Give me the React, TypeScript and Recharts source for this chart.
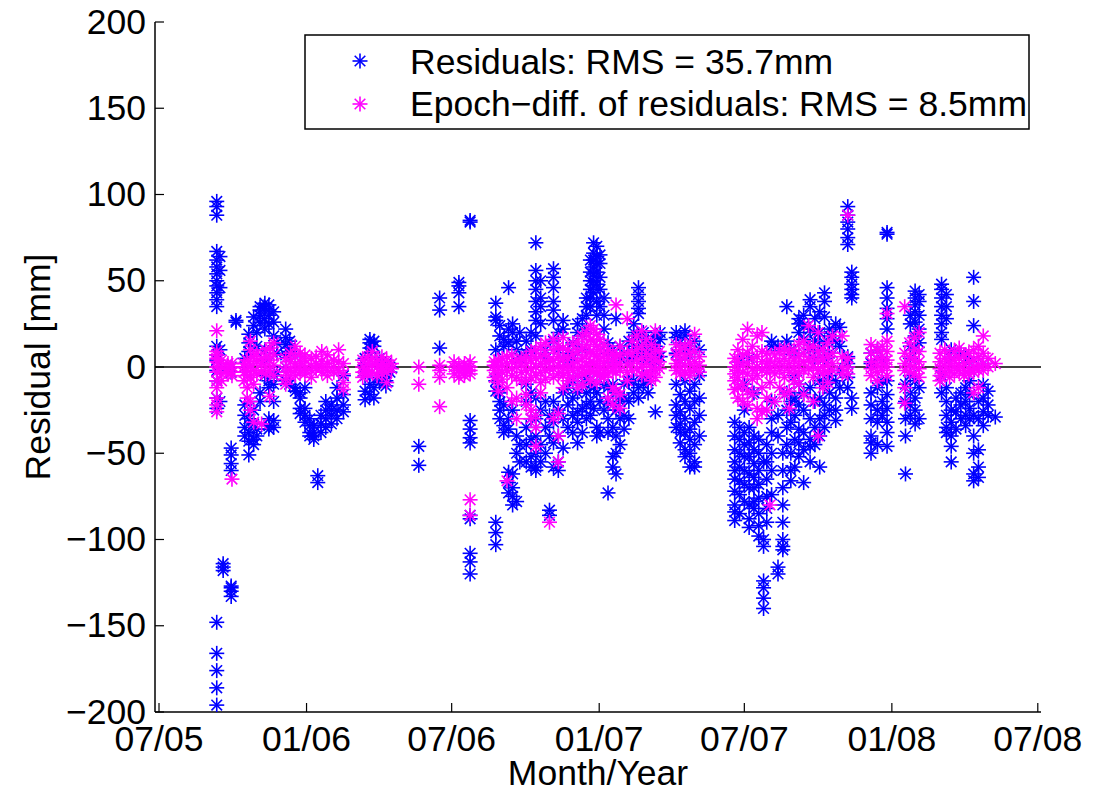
import React from "react";
import { ScatterChart, Scatter, XAxis, YAxis, ReferenceLine } from "recharts";

const FONT = '"Liberation Sans", Arial, Helvetica, sans-serif';
const BLUE = "#0000ff";
const MAGENTA = "#ff00ff";
const FS = 35.5;

// days since 2005-07-01
const monthTicks = [0, 184, 365, 549, 730, 914, 1096];
const monthLabels = ["07/05", "01/06", "07/06", "01/07", "07/07", "01/08", "07/08"];
const mmTicks = [-200, -150, -100, -50, 0, 50, 100, 150, 200];
const mmLabels = ["\u2212200", "\u2212150", "\u2212100", "\u221250", "0", "50", "100", "150", "200"];

// [day, residuals in mm at that day]
const residuals: [number, number[]][] = [
  [72, [96, 93, 88, 67, 62, 58, 54, 50, 47, 43, 39, 35, 12, 7, 4, -2, -8, -18, -24, -148, -166, -176, -186, -196]],
  [76, [64, 56, 46, 10, -20]],
  [80, [-114, -118, -116]],
  [90, [-127, -130, -133, -128, -47, -51, -56, -60, 0, -3]],
  [96, [27, 26]],
  [107, [5, 0, -22, -28, -35, -40]],
  [112, [19, 14, 9, -30, -38, -43, -51]],
  [118, [29, 24, -25, -33, -42, -45]],
  [122, [20, 12, -36, -40]],
  [126, [30, 33, 35, 26, -15, -20]],
  [132, [37, 34, 28, 22, 10, 4, -5]],
  [137, [33, 36, 30, 25, -8, -12, -30, -34, -36]],
  [143, [32, 26, 18, -5, -10, -20, -31, -35]],
  [147, [14, 8, -3]],
  [158, [22, 17, 13, 7, 0, -8]],
  [163, [15, 11, 9, -10]],
  [170, [6, -12, -14]],
  [176, [-15, -18, -24, -27]],
  [182, [-12, -24, -28, -32]],
  [188, [-30, -34, -38, -40]],
  [193, [-34, -38, -42, -40]],
  [198, [-63, -67]],
  [202, [-28, -33, -38]],
  [208, [-25, -30, -35, -20]],
  [215, [-22, -28, -33, -25]],
  [222, [-12, -18, -25, -30]],
  [230, [-5, -16, -22, -26]],
  [257, [5, 1, -5, -14, -19]],
  [263, [16, 14, 11, 8, -10, -16]],
  [268, [15, 12, -12, -18]],
  [275, [5, 2, -6, -9]],
  [283, [-8, -11, -4, 2]],
  [288, [-3, 0]],
  [324, [-46, -57]],
  [350, [40, 33, 11]],
  [374, [49, 47, 43, 35]],
  [388, [85, 84, -31, -36, -41, -44, -86, -88, -108, -113, -120]],
  [420, [-90, -96, -103, 37, 29, 27, 10, -8, -14]],
  [425, [24, 18, -15, -20, -25, -30]],
  [430, [16, 12, -22, -34, -38]],
  [436, [46, 22, 14, -30, -36, -61, -67, -73]],
  [441, [20, 25, -25, -62, -70, -75, -80]],
  [446, [15, 10, -40, -50, -78]],
  [450, [20, 5, -45, -55]],
  [458, [15, 8, -10, -20, -35, -45, -55]],
  [464, [20, 10, -15, -30, -42, -52, -58]],
  [470, [72, 56, 50, 45, 38, 32, 27, 18, -18, -30, -40, -50, -58, -60]],
  [476, [50, 40, 35, 25, -25, -45, -55]],
  [482, [10, 5, -20, -35, -50]],
  [487, [-83, -86, -40, -28]],
  [492, [57, 52, 46, 38, 33, 27, 15, -20, -32, -44, -58]],
  [498, [20, 10, -25, -40, -55, -60]],
  [504, [27, 22, 5, -15, -30, -47]],
  [510, [8, 3, -12, -22, -35]],
  [516, [14, 5, -8, -18, -28, -38]],
  [522, [25, 20, -5, -15, -26, -32, -44]],
  [528, [28, 18, 10, -10, -24, -38]],
  [533, [40, 35, 30, 22, -6, -15, -22, -30]],
  [538, [62, 55, 50, 45, 40, 35, -10, -20, -28]],
  [542, [72, 66, 62, 58, 54, 50, 47, 43, -12, -24]],
  [546, [70, 64, 60, 55, 48, 38, 30, -15, -35, -40]],
  [550, [65, 60, 52, 45, 35, -5, -20, -38]],
  [555, [40, 30, 22, -10, -25]],
  [560, [14, 8, -12, -20, -30, -38, -73]],
  [566, [10, 3, -10, -22, -35, -52, -58]],
  [570, [28, -15, -25, -40, -50, -62]],
  [575, [12, 5, -20, -30, -45]],
  [580, [8, -10, -18, -28, -36]],
  [586, [15, 5, -8, -20, -30]],
  [592, [25, 20, 12, 6, -8, -15]],
  [598, [46, 42, 38, 34, 31, 18, 10, -12, -18]],
  [604, [20, 12, 5, -5, -10]],
  [610, [15, 8, -8, -15]],
  [615, [14, 10, 5, 0]],
  [619, [18, 12, 8, 3, -26]],
  [625, [20, 16, 6]],
  [645, [20, 17, 8, -10, -22, -28, -35]],
  [650, [14, 4, -16, -26, -33, -38, -44]],
  [656, [21, 18, 10, -8, -20, -30, -38, -48, -52]],
  [662, [12, 6, -14, -24, -36, -42, -50, -58]],
  [668, [15, -10, -20, -32, -45, -55, -58]],
  [674, [10, -5, -18, -28, -40]],
  [718, [-32, -40, -48, -55, -60, -65, -72, -80, -84, -89]],
  [724, [-35, -42, -50, -58, -66, -74, -85, 3]],
  [730, [-25, -38, -45, -52, -60, -68, -78, -10]],
  [736, [-35, -44, -52, -62, -70, -80, -88, -93, 5]],
  [742, [-40, -48, -56, -64, -70, -78, -82, -15]],
  [748, [-42, -50, -60, -68, -76, -85, -92, -98]],
  [754, [-124, -128, -134, -140, -104, -100, -55]],
  [758, [-45, -55, -65, -75, -82, -90]],
  [764, [15, 12, -20, -30, -38, -50, -60, -74]],
  [772, [-116, -120, 12, -28, -40]],
  [778, [-50, -60, -70, -80, -90, -100, -104, -106]],
  [783, [35, 15, -15, -25, -35, -45]],
  [788, [10, -20, -32, -50, -60, -66]],
  [793, [8, -5, -18, -28, -42, -58]],
  [798, [28, 25, 20, -10, -22, -36, -44, -52]],
  [804, [30, 24, 16, -15, -25, -38, -48, -67]],
  [812, [39, 35, 22, 10, -12, -30, -42, -46, -55]],
  [818, [28, 20, 15, 5, -20, -35, -45]],
  [824, [32, 20, 10, -8, -18, -30, -40, -58]],
  [830, [43, 38, 29, 14, 5, -10, -22, -28, -35]],
  [836, [22, 18, 8, -5, -15, -25]],
  [844, [25, 15, -8, -18, -25, -31]],
  [849, [23, 12, -2, -12]],
  [859, [93, 88, 84, 80, 75, 71, 6, 2, -6, -12]],
  [864, [55, 52, 48, 45, 42, 40, -18, -24]],
  [888, [8, 2, -15, -22, -30, -40, -44, -50]],
  [896, [10, -12, -25, -32, -45]],
  [902, [4, -8, -20, -28]],
  [908, [78, 77, 46, 40, 34, 28, 22, -8, -16, -24, -32, -38, -46]],
  [931, [-62, -40, -30, -20, -10]],
  [937, [30, 25, 12, 5, -5, -15, -22, -28]],
  [943, [44, 40, 36, 32, 26, 18, 10, -8, -18, -25, -33]],
  [948, [42, 38, 30, 22, 14, -12, -30]],
  [976, [48, 45, 40, 35, 30, 25, 20, 16, -5, -15]],
  [982, [42, 35, 28, -12, -20, -28, -35, -38]],
  [988, [10, 5, -25, -32, -40, -46, -55]],
  [994, [-18, -26, -36]],
  [1000, [8, -15, -22, -30]],
  [1006, [5, -12, -20, -28, -34]],
  [1011, [3, -8, -16, -24, -30]],
  [1016, [52, 38, 24, -28, -40, -50, -62, -66]],
  [1022, [-20, -30, -48, -58, -64]],
  [1028, [2, -10, -18, -26, -34]],
  [1034, [-14, -22, -28]],
  [1043, [-29]],
];

// [day, epoch-differenced residuals in mm]
const epochDiffs: [number, number[]][] = [
  [72, [21, 9, 7, 5, 3, 0, -3, -8, -12, -18, -22, -26]],
  [78, [4, 0, -4, -8]],
  [86, [2, -1, -4]],
  [91, [0, -3, -5, 2, -65]],
  [106, [0, -3, -8, 2]],
  [110, [-2, -5, -12, -18, 4]],
  [114, [15, 10, 1, -6, -20, -25]],
  [118, [6, -2, -10, -32]],
  [122, [3, -4, 8]],
  [128, [2, -3, 5, -33]],
  [133, [6, 0, -4, 10]],
  [138, [11, 4, -2, -17]],
  [143, [7, 1, -5, 14]],
  [158, [5, 0, -3, -7, -10]],
  [164, [8, 3, -1, -5]],
  [170, [12, 6, 2, -2, -5]],
  [176, [8, 3, 0, -3]],
  [182, [7, 4, -1, -4]],
  [190, [5, 1, -2, -6]],
  [196, [6, 2, -1]],
  [203, [9, 3, 0, -3]],
  [210, [7, 2, -2, -5]],
  [218, [4, 0, -3]],
  [224, [10, 3, -2]],
  [230, [2, -4, -9, -13]],
  [254, [4, 0, -3, -6]],
  [260, [6, 2, -2, -4]],
  [266, [9, 5, 1, -3]],
  [272, [3, 0, -5]],
  [278, [6, 2, -1, -4]],
  [284, [4, 0, -3, -9]],
  [290, [2, -1]],
  [324, [0, -10]],
  [350, [1, -2, -6, -23]],
  [368, [3, 0, -4]],
  [374, [1, -2, -6]],
  [381, [2, -1, -5, -3]],
  [388, [3, 0, -2, -4, -77, -86]],
  [418, [3, -2, -6, 1]],
  [423, [4, 0, -4, -9, -14]],
  [428, [5, 1, -3, -7]],
  [434, [6, 2, -2, -12, -66]],
  [440, [7, 3, -1, -5, -20]],
  [446, [4, 0, -6, -18, -30]],
  [452, [5, 2, -3, -8]],
  [458, [6, 2, -2, -8, -16, -22]],
  [464, [9, 4, -1, -6, -25, -30]],
  [470, [10, 5, 0, -5, -28, -35, -46]],
  [476, [12, 6, 2, -3, -9, -15]],
  [482, [14, 8, 3, -2, -7]],
  [487, [4, -1, -90]],
  [492, [16, 10, 4, -1, -6, -30]],
  [498, [12, 6, 1, -4, -27, -40, -55]],
  [504, [17, 11, 5, 0, -5, -12]],
  [510, [10, 5, 0, -3, -8]],
  [516, [13, 7, 2, -2, -6]],
  [522, [15, 9, 3, -1, -5, -12]],
  [528, [18, 11, 5, 0, -4, -10]],
  [533, [20, 13, 7, 1, -3]],
  [538, [24, 16, 9, 3, -2, -8]],
  [542, [22, 15, 8, 2, -3]],
  [546, [19, 12, 6, 1, -4, -9]],
  [550, [16, 10, 4, -1, -5]],
  [555, [13, 7, 2, -3, -6]],
  [560, [10, 5, 0, -4, -18]],
  [566, [8, 3, -2, -12, -22]],
  [570, [36, 6, 1, -3, -14]],
  [575, [12, 7, 2, -2, -16, -24]],
  [584, [28, 8, 2, -3, -8]],
  [590, [15, 8, 2, -2]],
  [596, [18, 10, 4, -1]],
  [602, [21, 12, 5, 0, -5]],
  [608, [16, 8, 2, -3]],
  [614, [13, 6, 0, -4, -8]],
  [619, [21, 10, 4, -2, -6]],
  [624, [9, 3, -1]],
  [645, [13, 7, 2, -2]],
  [650, [10, 4, 0, -4]],
  [656, [12, 6, 1, -3]],
  [662, [14, 8, 2, -2, -5]],
  [668, [19, 9, 3, -1]],
  [674, [6, 1, -3]],
  [718, [5, 0, -4, -8, -13]],
  [722, [10, 3, -2, -6, -12, -18]],
  [728, [16, 7, 1, -3, -10, -20]],
  [734, [22, 8, 2, -4, -14, -22]],
  [740, [12, 5, -1, -7, -16]],
  [746, [18, 6, 0, -5, -24, -30]],
  [752, [20, 9, 3, -2, -12, -26]],
  [758, [8, 2, -3, -18, -25]],
  [762, [-80, 4, -1, -9]],
  [768, [7, 1, -4, -20]],
  [774, [9, 3, -2, -12]],
  [780, [11, 5, 0, -6, -16]],
  [786, [8, 2, -3, -14, -24]],
  [792, [10, 4, -1, -8]],
  [798, [13, 6, 1, -4, -10]],
  [804, [15, 8, 3, -2, -16]],
  [810, [24, 11, 4, -1]],
  [816, [12, 6, 0, -6, -20]],
  [822, [20, 9, 3, -2, -40]],
  [828, [10, 5, 0, -4, -12]],
  [834, [14, 6, 1, -3, -9]],
  [840, [18, 8, 2, -2]],
  [852, [18, 6, 0, -4]],
  [859, [88, 5, 0, -4]],
  [888, [13, 8, 3, -1, -5]],
  [896, [10, 5, 1, -3, -8]],
  [902, [12, 6, 2, -2]],
  [908, [31, 15, 9, 4, 0, -5]],
  [930, [35, 8, 2, -2, -12, -21]],
  [936, [14, 6, 1, -3]],
  [942, [17, 10, 4, 0, -4]],
  [948, [20, 9, 3, -1, -6]],
  [974, [8, 3, -1, -5, -8]],
  [980, [10, 5, 1, -3]],
  [986, [6, 2, -2, -6]],
  [992, [9, 4, 0, -4]],
  [998, [11, 5, 1, -2]],
  [1004, [7, 2, -2, -5]],
  [1010, [8, 3, -1, -4]],
  [1016, [10, 4, 0, -3, -15]],
  [1022, [12, 6, 1, -2, -12]],
  [1028, [18, 8, 2, -2]],
  [1034, [5, 0]],
  [1043, [2]],
];

const toPoints = (cols: [number, number[]][]) =>
  cols.flatMap(([day, vals]) => vals.map((mm) => ({ day, mm })));

const residualPts = toPoints(residuals);
const diffPts = toPoints(epochDiffs);

function Asterisk({ cx, cy, color }: { cx: number; cy: number; color: string }) {
  const r = 7.5;
  const d = 5.3;
  return (
    <g stroke={color} strokeWidth={1.6} fill="none">
      <line x1={cx - r} y1={cy} x2={cx + r} y2={cy} />
      <line x1={cx} y1={cy - r} x2={cx} y2={cy + r} />
      <line x1={cx - d} y1={cy - d} x2={cx + d} y2={cy + d} />
      <line x1={cx - d} y1={cy + d} x2={cx + d} y2={cy - d} />
    </g>
  );
}

const BottomTick = ({ x, y, payload }: any) => {
  const i = monthTicks.indexOf(payload.value);
  return (
    <g>
      <line x1={x} y1={y} x2={x} y2={y - 9} stroke="#000" strokeWidth={1.2} />
      <text x={x} y={y + 39} textAnchor="middle" fontSize={FS} fontFamily={FONT} fill="#000">
        {monthLabels[i]}
      </text>
    </g>
  );
};

const TopTick = ({ x, y }: any) => (
  <line x1={x} y1={y} x2={x} y2={y + 9} stroke="#000" strokeWidth={1.2} />
);

const LeftTick = ({ x, y, payload }: any) => {
  const i = mmTicks.indexOf(payload.value);
  return (
    <g>
      <line x1={x} y1={y} x2={x + 9} y2={y} stroke="#000" strokeWidth={1.2} />
      <text x={x - 9} y={y + 11.5} textAnchor="end" fontSize={FS} fontFamily={FONT} fill="#000">
        {mmLabels[i]}
      </text>
    </g>
  );
};

const RightTick = ({ x, y }: any) => (
  <line x1={x} y1={y} x2={x - 9} y2={y} stroke="#000" strokeWidth={1.2} />
);

export default function App() {
  return (
    <div style={{ position: "absolute", left: 0, top: 0, width: 1101, height: 792, background: "#fff" }}>
      <ScatterChart width={1101} height={792} margin={{ top: 22, right: 60, bottom: 0, left: 0 }}>
        <XAxis
          xAxisId="b"
          type="number"
          dataKey="day"
          domain={[-5, 1100]}
          allowDataOverflow
          ticks={monthTicks}
          interval={0}
          height={80}
          tickSize={0}
          tickMargin={0}
          tickLine={false}
          axisLine={{ stroke: "#000", strokeWidth: 1.5 }}
          tick={<BottomTick />}
          label={{ value: "Month/Year", position: "insideBottom", offset: 7, fontSize: FS, fontFamily: FONT, fill: "#000" }}
        />
        <XAxis
          xAxisId="t"
          orientation="top"
          type="number"
          dataKey="day"
          domain={[-5, 1100]}
          allowDataOverflow
          ticks={monthTicks}
          interval={0}
          height={0}
          tickSize={0}
          tickMargin={0}
          tickLine={false}
          axisLine={{ stroke: "#000", strokeWidth: 1.5 }}
          tick={<TopTick />}
        />
        <YAxis
          yAxisId="l"
          type="number"
          dataKey="mm"
          domain={[-200, 200]}
          allowDataOverflow
          ticks={mmTicks}
          interval={0}
          width={155}
          tickSize={0}
          tickMargin={0}
          tickLine={false}
          axisLine={{ stroke: "#000", strokeWidth: 1.5 }}
          tick={<LeftTick />}
          label={{
            value: "Residual [mm]",
            angle: -90,
            position: "insideLeft",
            offset: 37,
            fontSize: FS,
            fontFamily: FONT,
            fill: "#000",
            style: { textAnchor: "middle" },
          }}
        />
        <YAxis
          yAxisId="r"
          orientation="right"
          type="number"
          dataKey="mm"
          domain={[-200, 200]}
          allowDataOverflow
          ticks={mmTicks}
          interval={0}
          width={0}
          tickSize={0}
          tickMargin={0}
          tickLine={false}
          axisLine={{ stroke: "#000", strokeWidth: 1.5 }}
          tick={<RightTick />}
        />
        <Scatter
          name="Residuals"
          data={residualPts}
          xAxisId="b"
          yAxisId="l"
          isAnimationActive={false}
          shape={(p: any) => <Asterisk cx={p.cx} cy={p.cy} color={BLUE} />}
        />
        <Scatter
          name="Epoch-diff"
          data={diffPts}
          xAxisId="b"
          yAxisId="l"
          isAnimationActive={false}
          shape={(p: any) => <Asterisk cx={p.cx} cy={p.cy} color={MAGENTA} />}
        />
        <ReferenceLine xAxisId="b" yAxisId="l" y={0} stroke="#000" strokeWidth={1.3} />
      </ScatterChart>
      <svg width={1101} height={792} style={{ position: "absolute", left: 0, top: 0, pointerEvents: "none" }}>
        <rect x={305} y={35} width={724} height={94} fill="#fff" stroke="#000" strokeWidth={1.5} />
        <Asterisk cx={360} cy={61} color={BLUE} />
        <Asterisk cx={360} cy={104} color={MAGENTA} />
        <text x={410} y={74} fontSize={FS} fontFamily={FONT} fill="#000">
          Residuals: RMS = 35.7mm
        </text>
        <text x={410} y={116} fontSize={FS} fontFamily={FONT} fill="#000">
          Epoch{"\u2212"}diff. of residuals: RMS = 8.5mm
        </text>
      </svg>
    </div>
  );
}
